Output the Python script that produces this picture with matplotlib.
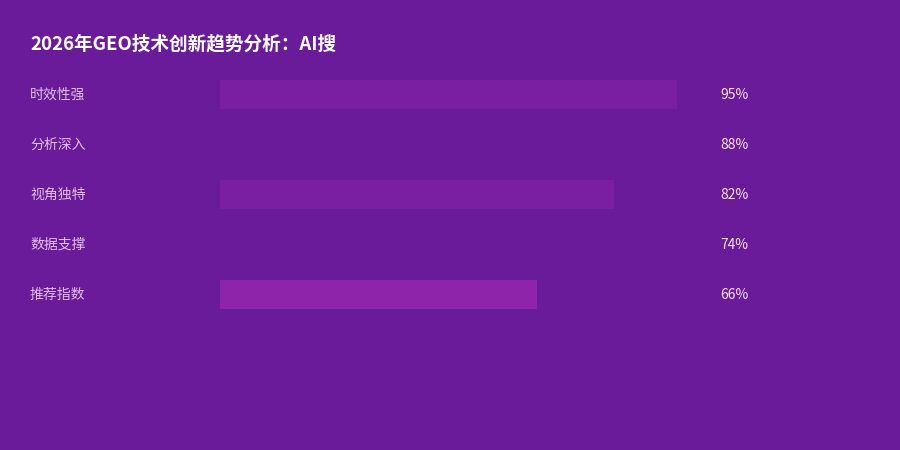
import matplotlib.pyplot as plt
from matplotlib.transforms import blended_transform_factory

plt.rcParams['font.family'] = ['Noto Sans CJK SC', 'DejaVu Sans']

title = "2026年GEO技术创新趋势分析：AI搜"
categories = ["时效性强", "分析深入", "视角独特", "数据支撑", "推荐指数"]
values = [95, 88, 82, 74, 66]
bar_colors = ["#7B1FA2", "#6A1B9A", "#7B1FA2", "#6A1B9A", "#8E24AA"]

bg = "#6A1B9A"
W, H = 900, 450
fig = plt.figure(figsize=(9, 4.5), dpi=100, facecolor=bg)

# axes spanning 220..701 px horizontally, rows centred at 94..294 px
ax = fig.add_axes([220 / W, 1 - 319 / H, 481 / W, 250 / H])
ax.set_facecolor(bg)
ax.set_xlim(0, 100)
ax.set_ylim(len(categories) - 0.5, -0.5)
ax.axis("off")

ypos = range(len(categories))
ax.barh(ypos, values, height=0.58, color=bar_colors, left=0)

tr = blended_transform_factory(fig.transFigure, ax.transData)
for y, cat, v in zip(ypos, categories, values):
    ax.text(30 / W, y + 0.02, cat, transform=tr, ha="left", va="center",
            fontsize=10, color="#E1BEE7")
    ax.text(720 / W, y + 0.02, f"{v}%", transform=tr, ha="left", va="center",
            fontsize=10, color="#F3E5F5")

fig.text(30 / W, 1 - 44 / H, title, ha="left", va="center",
         fontsize=13.4, fontweight="bold", color="white")

fig.savefig("out.png", dpi=100, facecolor=bg)
